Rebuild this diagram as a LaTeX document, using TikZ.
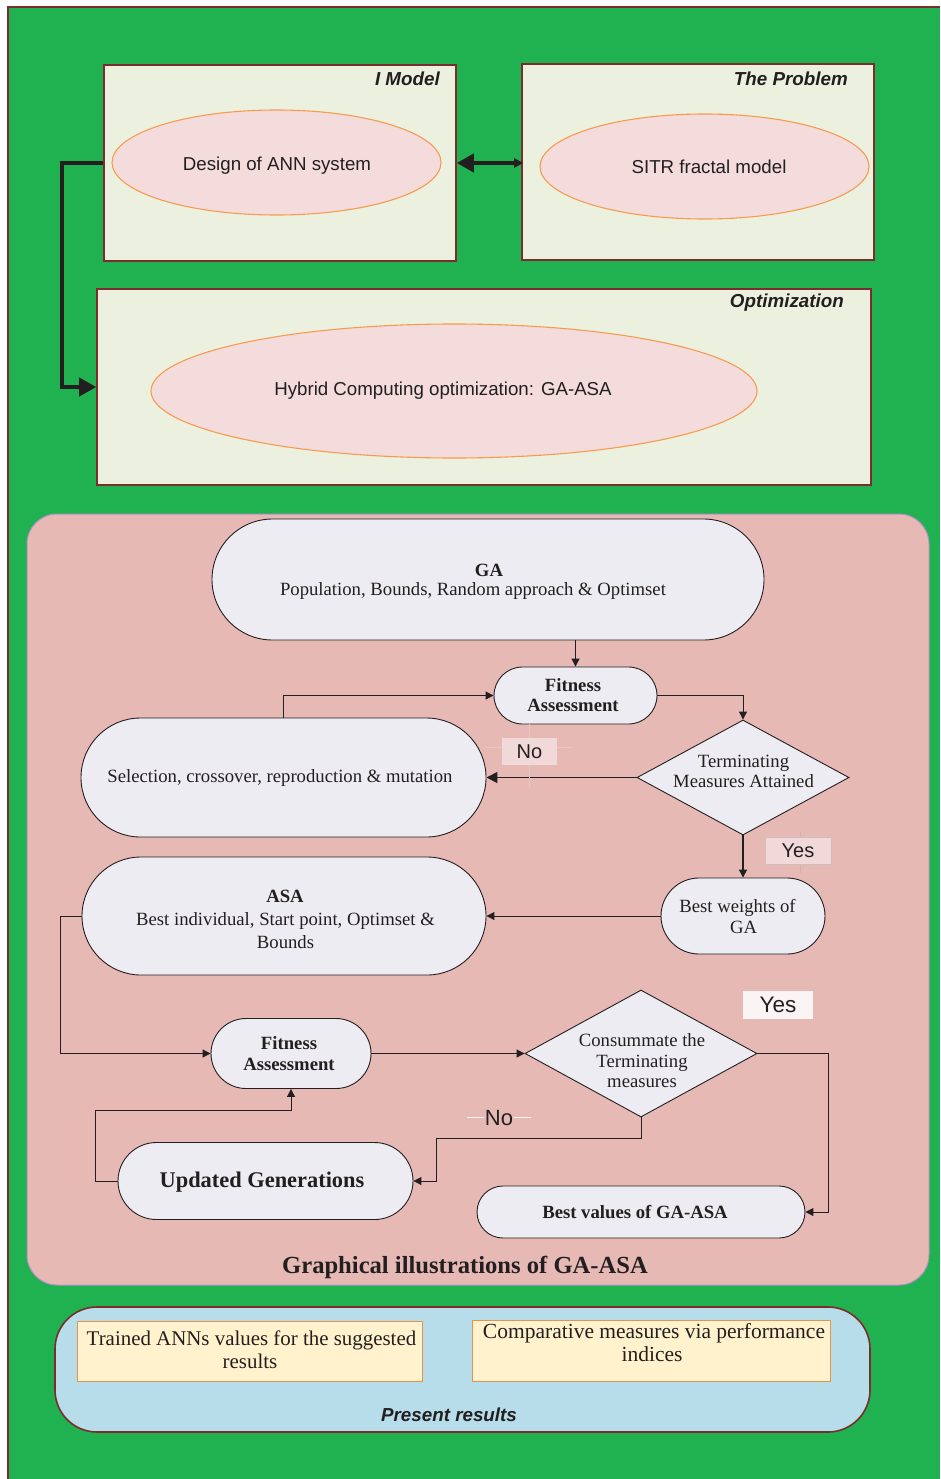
\documentclass[tikz,border=0pt]{standalone}
\usepackage{fontspec}
\setmainfont{Liberation Serif}
\newfontfamily\hv{Liberation Sans}
\usetikzlibrary{arrows.meta,shapes.geometric,shapes.misc}
\definecolor{grn}{HTML}{20B150}
\definecolor{brd}{HTML}{7B2C2C}
\definecolor{lgrn}{HTML}{EBF1DE}
\definecolor{pk}{HTML}{F3DCDB}
\definecolor{org}{HTML}{F79B50}
\definecolor{panel}{HTML}{E6B9B5}
\definecolor{nod}{HTML}{EEECF3}
\definecolor{lbl}{HTML}{F0D9D8}
\definecolor{cyn}{HTML}{B6DDE9}
\definecolor{ylw}{HTML}{FFF2CC}
\definecolor{ink}{HTML}{231F20}
\tikzset{
 x=1pt,y=-1pt,
 frame/.style={draw=brd,line width=1.6pt,fill=lgrn,rectangle,inner sep=0pt},
 ell/.style={draw=org,line width=1.1pt,fill=pk,ellipse,inner sep=0pt},
 pill/.style={draw=ink,line width=.9pt,fill=nod,rounded rectangle,rounded rectangle arc length=180,inner sep=0pt},
 dia/.style={draw=ink,line width=.9pt,fill=nod,diamond,inner sep=0pt},
 ybox/.style={draw=org!70!brown,line width=1pt,fill=ylw,rectangle,inner sep=0pt},
 sf/.style={text=ink,inner sep=0pt,font=\hv\fontsize{18.7}{20}\selectfont,align=center},
 ttl/.style={text=ink,inner sep=0pt,font=\hv\bfseries\itshape\fontsize{18.8}{20}\selectfont},
 ser/.style={text=ink,inner sep=0pt,font=\fontsize{18.7}{20.5}\selectfont,align=center},
 serb/.style={text=ink,inner sep=0pt,font=\bfseries\fontsize{18.7}{20.5}\selectfont,align=center},
 wire/.style={draw=ink,line width=1pt,-{Triangle[length=8pt,width=8pt]}},
 heavy/.style={draw=ink,line width=4pt,-{Triangle[length=17pt,width=18pt]}},
}
\begin{document}
\begin{tikzpicture}
\useasboundingbox (0,0) rectangle (940,1479);
\fill[white] (0,0) rectangle (940,1479);
% background
\fill[grn] (8,7) rectangle (940,1479);
\draw[brd,line width=1.6pt] (8,1479) -- (8,7) -- (940,7);

% top boxes
\node[frame,minimum width=352pt,minimum height=196pt] (mod) at (280,163) {};
\node[frame,minimum width=352pt,minimum height=196pt] (prob) at (698,162) {};
\node[frame,minimum width=774pt,minimum height=196pt] (opt) at (484,387) {};
\node[ttl,anchor=east] (tmod) at (440,78.5) {I Model};
\node[ttl,anchor=east] (tprob) at (848,78.5) {The Problem};
\node[ttl,anchor=east] (topt) at (844,302.5) {Optimization};
\node[ell,minimum width=329pt,minimum height=105pt] (e1) at (276.5,162.5) {};
\node[ell,minimum width=329pt,minimum height=105pt] (e2) at (704.5,166.5) {};
\node[ell,minimum width=606pt,minimum height=134pt] (e3) at (454,391) {};
\node[sf] (te1) at (277,166) {Design of ANN system};
\node[sf] (te2) at (709,166.5) {SITR fractal model};
\node[sf] (te3) at (443,391) {Hybrid Computing optimization: GA-ASA};
\coordinate (c5) at (62,163);
\draw[heavy,{Triangle[length=17pt,width=18pt]}-{Triangle[length=9pt,width=9pt]},shorten >=-2pt] (mod.east) -- (mod.east -| prob.west);
\draw[heavy,line join=miter] (mod.west) -- (c5) |- (opt.west);

% panel
\node[rectangle,draw=blue!22!panel,line width=1pt,fill=panel,rounded corners=30pt,minimum width=902pt,minimum height=771pt,inner sep=0pt] (panel) at (478,899.5) {};
\node[pill,minimum width=552pt,minimum height=121pt] (ga) at (488,579.5) {};
\node[pill,minimum width=163pt,minimum height=57pt] (fit1) at (575.5,695.5) {};
\node[pill,minimum width=405pt,minimum height=119pt] (sel) at (283.5,777.5) {};
\node[dia,minimum width=212pt,minimum height=115pt] (d1) at (743,777.5) {};
\node[pill,minimum width=164pt,minimum height=76pt] (bw) at (743,916) {};
\node[pill,minimum width=404pt,minimum height=118pt] (asa) at (284,916) {};
\node[pill,minimum width=160pt,minimum height=70pt] (fit2) at (291,1053.5) {};
\node[dia,minimum width=232pt,minimum height=127pt] (d2) at (641,1053.5) {};
\node[pill,minimum width=295pt,minimum height=77pt] (upd) at (265.5,1181) {};
\node[pill,minimum width=328pt,minimum height=52pt] (bv) at (641,1212) {};

\node[serb] (tga0) at (489,570) {GA};
\node[ser] (tga1) at (473,591) {Population, Bounds, Random approach \& Optimset};
\node[serb] (tf1) at (573,695) {Fitness\\Assessment};
\node[ser] (tsel) at (280,778) {Selection, crossover, reproduction \& mutation};
\node[ser] (td1) at (743.5,771.5) {Terminating\\Measures Attained};
\node[ser] (tbw) at (737.5,916.5) {Best weights of\\\hspace*{12pt}GA};
\node[serb] (tasa0) at (285,896) {ASA};
\node[ser,font=\fontsize{18.7}{23}\selectfont] (tasa1) at (285.5,931) {Best individual, Start point, Optimset \&\\Bounds};
\node[serb] (tf2) at (289,1053.5) {Fitness\\Assessment};
\node[ser] (td2) at (642,1061) {Consummate the\\Terminating\\measures};
\node[text=ink,inner sep=0pt,font=\bfseries\fontsize{22.4}{24}\selectfont] (tupd) at (262,1182) {Updated Generations};
\node[serb] (tbv) at (635,1212) {Best values of GA-ASA};
\node[text=ink,inner sep=0pt,font=\bfseries\fontsize{24.6}{26}\selectfont] (tgr) at (465,1267) {Graphical illustrations of GA-ASA};

% connectors
\coordinate (c1) at (436,1138);
\coordinate (c2) at (828,1053.5);
\coordinate (c3) at (95,1181);
\coordinate (c4) at (291,1110);
\coordinate (c6) at (60,916);
\draw[wire] (fit1.north |- ga.south) -- (fit1.north);
\draw[wire] (fit1.east) -| (d1.north);
\draw[wire] (sel.north) |- (fit1.west);
\draw[wire,line width=1.6pt,-{Triangle[length=11pt,width=11pt]}] (d1.west) -- (sel.east);
\draw[wire,line width=1.3pt] (d1.south) -- (bw.north);
\draw[wire] (bw.west) -- (asa.east);
\draw[wire] (asa.west) -- (c6) |- (fit2.west);
\draw[wire] (fit2.east) -- (d2.west);
\draw[wire] (d2.south) |- (c1) |- (upd.east);
\draw[wire] (d2.east) -- (c2) |- (bv.east);
\draw[wire] (upd.west) -- (c3) |- (c4) -- (fit2.south);

% labels
\draw[lbl!40!panel,line width=.6pt] (485,747) -- (573,747) (529,724) -- (529,788);
\node[fill=lbl,inner sep=0pt,minimum width=55pt,minimum height=27pt,text=ink,font=\hv\fontsize{20}{22}\selectfont] (no1) at (529.5,751.5) {No};
\draw[lbl!30!gray!30!panel,line width=.6pt] (800,832) -- (800,873);
\node[fill=lbl,draw=lbl!70!gray,line width=.6pt,inner sep=0pt,minimum width=66pt,minimum height=27pt,text=ink,font=\hv\fontsize{20}{22}\selectfont] (yes1) at (798,851) {Yes};
\node[fill=white!85!panel,inner sep=0pt,minimum width=70pt,minimum height=28pt,text=ink,font=\hv\fontsize{22.5}{24}\selectfont] (yes2) at (778,1004.5) {Yes};
\draw[white!85!panel,line width=1pt] (467,1117) -- (531,1117);
\node[text=ink,inner sep=0pt,font=\hv\fontsize{22}{24}\selectfont,fill=panel,inner xsep=1pt] (no2) at (499,1118) {No};

% bottom
\node[rectangle,draw=brd,line width=1.6pt,fill=cyn,rounded corners=42pt,minimum width=815pt,minimum height=125pt,inner sep=0pt] (res) at (462.5,1369.5) {};
\node[ybox,minimum width=345pt,minimum height=60pt] (y1) at (249.5,1351) {};
\node[ybox,minimum width=358pt,minimum height=61pt] (y2) at (651,1350.5) {};
\node[ser,font=\fontsize{20.9}{23}\selectfont] (ty1) at (251.5,1350) {Trained ANNs values for the suggested\\\hspace*{-3pt}results};
\node[ser,font=\fontsize{21.5}{23}\selectfont] (ty2) at (654,1343) {Comparative measures via performance\\\hspace*{-4pt}indices};
\node[ttl] (tres) at (449,1414.5) {Present results};
\end{tikzpicture}
\end{document}
